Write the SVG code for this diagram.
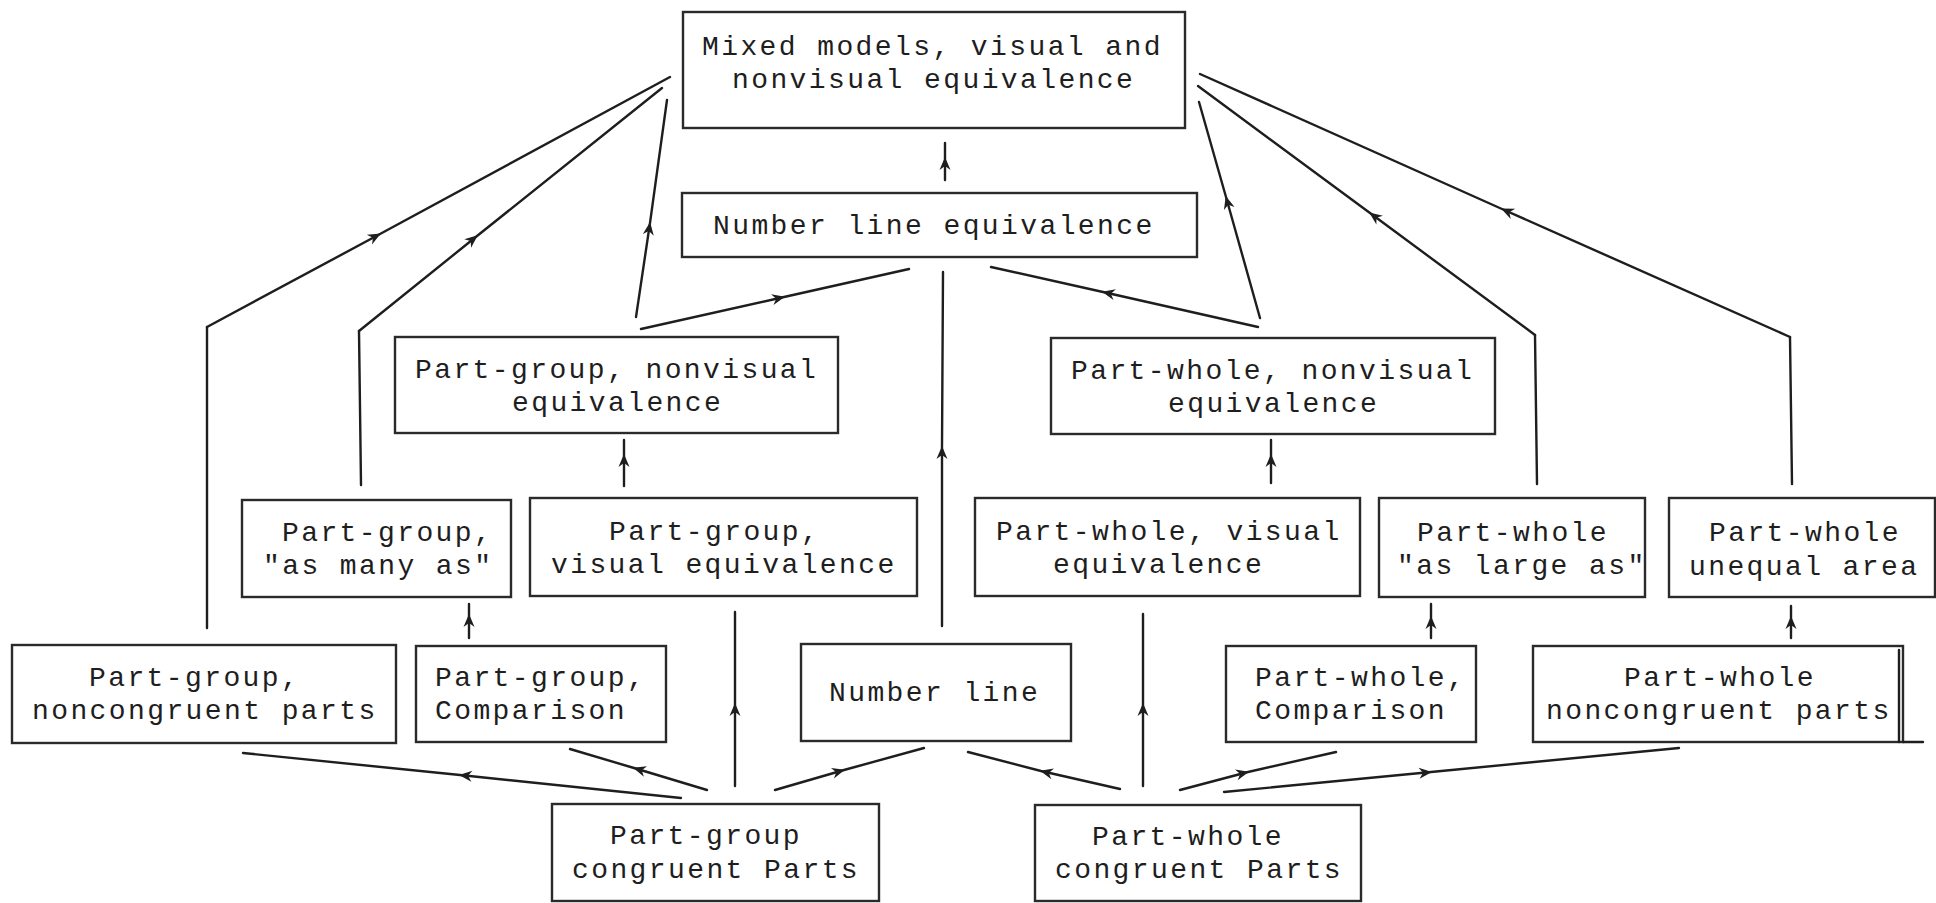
<svg xmlns="http://www.w3.org/2000/svg" width="1936" height="903" viewBox="0 0 1936 903">
<style>
  .box { fill: #ffffff; stroke: #2a2a2a; stroke-width: 2.4; }
  .t { font-family: "Liberation Mono", "Courier New", monospace; font-size: 28px; letter-spacing: 2.4px; fill: #1e1e1e; }
  .c { fill: none; stroke: #1e1e1e; stroke-width: 2.4; stroke-linecap: round; stroke-linejoin: round; }
  .a { marker-mid: url(#arr); }
</style>
<defs>
  <marker id="arr" viewBox="-14 -7 16 14" markerWidth="16" markerHeight="14" refX="0" refY="0" markerUnits="userSpaceOnUse" orient="auto">
    <path d="M-12,-5.5 L1,0 L-12,5.5 L-8,0 Z" fill="#1e1e1e"/>
  </marker>
</defs>
<rect width="1936" height="903" fill="#ffffff"/>

<g id="connectors">
  <g id="e_pgnon_mixed">
    <path class="c" d="M207,628 L207,327"/>
    <path class="c a" d="M207,327 L380,234 L670,77"/>
  </g>
  <g id="e_pgmany_mixed">
    <path class="c" d="M361,485 L359,331"/>
    <path class="c a" d="M359,331 L477,236 L662,88"/>
  </g>
  <path id="e_pgnv_mixed" class="c a" d="M636,317 L650,223 L667,100"/>
  <path id="e_nleq_mixed" class="c a" d="M945,180 L945,158 L945,143"/>
  <path id="e_pwnv_mixed" class="c a" d="M1260,318 L1226,197 L1199,102"/>
  <g id="e_pwlarge_mixed">
    <path class="c" d="M1537,484 L1535,335"/>
    <path class="c a" d="M1535,335 L1370,213 L1198,86"/>
  </g>
  <g id="e_pwunequal_mixed">
    <path class="c" d="M1792,484 L1790,337"/>
    <path class="c a" d="M1790,337 L1502,209 L1200,74"/>
  </g>
  <path id="e_pgnv_nleq" class="c a" d="M641,329 L784,297 L909,269"/>
  <path id="e_pwnv_nleq" class="c a" d="M1258,327 L1103,292 L991,267"/>
  <path id="e_nl_nleq" class="c a" d="M942,626 L942,447 L943,272"/>
  <path id="e_pgvis_pgnv" class="c a" d="M624,486 L624,455 L624,440"/>
  <path id="e_pwvis_pwnv" class="c a" d="M1271,483 L1271,455 L1271,440"/>
  <path id="e_pgcomp_pgmany" class="c a" d="M469,638 L469,615 L469,604"/>
  <path id="e_pwcomp_pwlarge" class="c a" d="M1431,638 L1431,617 L1431,604"/>
  <path id="e_pwnon_pwunequal" class="c a" d="M1791,638 L1791,617 L1791,606"/>
  <path id="e_pgcong_pgvis" class="c a" d="M735,786 L735,704 L735,612"/>
  <path id="e_pgcong_pgcomp" class="c a" d="M707,790 L634,768 L570,749"/>
  <path id="e_pgcong_pgnon" class="c a" d="M681,798 L460,775 L243,753"/>
  <path id="e_pgcong_nl" class="c a" d="M775,790 L844,770 L924,748"/>
  <path id="e_pwcong_nl" class="c a" d="M1120,789 L1041,771 L968,752"/>
  <path id="e_pwcong_pwvis" class="c a" d="M1143,786 L1143,704 L1143,614"/>
  <path id="e_pwcong_pwcomp" class="c a" d="M1180,790 L1248,772 L1336,752"/>
  <path id="e_pwcong_pwnon" class="c a" d="M1224,792 L1431,772 L1679,748"/>
</g>

<g id="n_mixed">
  <rect class="box" x="683" y="12" width="502" height="116"/>
  <text class="t" x="702" y="55">Mixed models, visual and</text>
  <text class="t" x="732" y="88">nonvisual equivalence</text>
</g>
<g id="n_nleq">
  <rect class="box" x="682" y="193" width="515" height="64"/>
  <text class="t" x="713" y="234">Number line equivalence</text>
</g>
<g id="n_pgnv">
  <rect class="box" x="395" y="337" width="443" height="96"/>
  <text class="t" x="415" y="378">Part-group, nonvisual</text>
  <text class="t" x="512" y="411">equivalence</text>
</g>
<g id="n_pwnv">
  <rect class="box" x="1051" y="338" width="444" height="96"/>
  <text class="t" x="1071" y="379">Part-whole, nonvisual</text>
  <text class="t" x="1168" y="412">equivalence</text>
</g>
<g id="n_pgmany">
  <rect class="box" x="242" y="500" width="269" height="97"/>
  <text class="t" x="282" y="541">Part-group,</text>
  <text class="t" x="263" y="574">"as many as"</text>
</g>
<g id="n_pgvis">
  <rect class="box" x="530" y="498" width="387" height="98"/>
  <text class="t" x="609" y="540">Part-group,</text>
  <text class="t" x="551" y="573">visual equivalence</text>
</g>
<g id="n_pwvis">
  <rect class="box" x="975" y="498" width="385" height="98"/>
  <text class="t" x="996" y="540">Part-whole, visual</text>
  <text class="t" x="1053" y="573">equivalence</text>
</g>
<g id="n_pwlarge">
  <rect class="box" x="1379" y="498" width="266" height="99"/>
  <text class="t" x="1417" y="541">Part-whole</text>
  <text class="t" x="1397" y="574">"as large as"</text>
</g>
<g id="n_pwunequal">
  <rect class="box" x="1669" y="498" width="266" height="99"/>
  <text class="t" x="1709" y="541">Part-whole</text>
  <text class="t" x="1689" y="575">unequal area</text>
</g>
<g id="n_pgnon">
  <rect class="box" x="12" y="645" width="384" height="98"/>
  <text class="t" x="89" y="686">Part-group,</text>
  <text class="t" x="32" y="719">noncongruent parts</text>
</g>
<g id="n_pgcomp">
  <rect class="box" x="416" y="646" width="250" height="96"/>
  <text class="t" x="435" y="686">Part-group,</text>
  <text class="t" x="435" y="719">Comparison</text>
</g>
<g id="n_nl">
  <rect class="box" x="801" y="644" width="270" height="97"/>
  <text class="t" x="829" y="701">Number line</text>
</g>
<g id="n_pwcomp">
  <rect class="box" x="1226" y="646" width="250" height="96"/>
  <text class="t" x="1255" y="686">Part-whole,</text>
  <text class="t" x="1255" y="719">Comparison</text>
</g>
<g id="n_pwnon">
  <rect class="box" x="1533" y="646" width="370" height="96"/>
  <line class="c" x1="1899" y1="650" x2="1899" y2="742"/>
  <line class="c" x1="1903" y1="742" x2="1923" y2="742"/>
  <text class="t" x="1624" y="686">Part-whole</text>
  <text class="t" x="1546" y="719">noncongruent parts</text>
</g>
<g id="n_pgcong">
  <rect class="box" x="552" y="804" width="327" height="97"/>
  <text class="t" x="610" y="844">Part-group</text>
  <text class="t" x="572" y="878">congruent Parts</text>
</g>
<g id="n_pwcong">
  <rect class="box" x="1035" y="805" width="326" height="96"/>
  <text class="t" x="1092" y="845">Part-whole</text>
  <text class="t" x="1055" y="878">congruent Parts</text>
</g>
</svg>
